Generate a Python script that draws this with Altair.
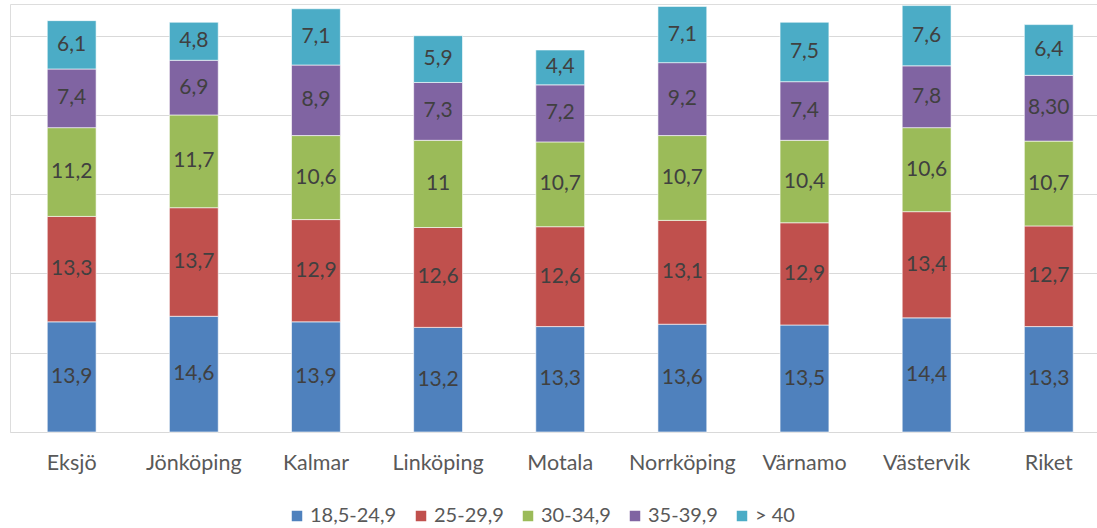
import altair as alt
import pandas as pd

# BMI classes per municipality (percent of population), as printed on the bars
cities = ["Eksjö", "Jönköping", "Kalmar", "Linköping", "Motala",
          "Norrköping", "Värnamo", "Västervik", "Riket"]
classes = ["18,5-24,9", "25-29,9", "30-34,9", "35-39,9", "> 40"]
colors = ["#4f81bd", "#c0504d", "#9bbb59", "#8064a2", "#4bacc6"]

bmi_18_24 = ["13,9", "14,6", "13,9", "13,2", "13,3", "13,6", "13,5", "14,4", "13,3"]
bmi_25_29 = ["13,3", "13,7", "12,9", "12,6", "12,6", "13,1", "12,9", "13,4", "12,7"]
bmi_30_34 = ["11,2", "11,7", "10,6", "11", "10,7", "10,7", "10,4", "10,6", "10,7"]
bmi_35_39 = ["7,4", "6,9", "8,9", "7,3", "7,2", "9,2", "7,4", "7,8", "8,30"]
bmi_40 = ["6,1", "4,8", "7,1", "5,9", "4,4", "7,1", "7,5", "7,6", "6,4"]

series = [bmi_18_24, bmi_25_29, bmi_30_34, bmi_35_39, bmi_40]

rows = []
for k, (cls, vals) in enumerate(zip(classes, series)):
    for city, txt in zip(cities, vals):
        rows.append({"city": city, "klass": cls, "order": k,
                     "value": float(txt.replace(",", ".")), "label": txt})
df = pd.DataFrame(rows)

FONT = "Lato"

x_enc = alt.X("city:N", sort=cities, title=None,
              scale=alt.Scale(paddingInner=0.6, paddingOuter=0.25, align=0.61, round=False),
              axis=alt.Axis(labelAngle=0, ticks=False, domain=False, labelFontSize=21.5,
                            labelColor="#595959", labelFont=FONT, labelPadding=20))

y_scale = alt.Scale(domain=[0, 54], nice=False)

bars = alt.Chart(df).mark_bar(stroke="white", strokeWidth=0.6).encode(
    x=x_enc,
    y=alt.Y("value:Q", stack="zero", scale=y_scale, title=None,
            axis=alt.Axis(labels=False, ticks=False, domain=False, values=[0, 10, 20, 30, 40, 50],
                          grid=True, gridColor="#d9d9d9", gridWidth=1.2)),
    color=alt.Color("klass:N", sort=classes,
                    scale=alt.Scale(domain=classes, range=colors),
                    legend=alt.Legend(title=None, orient="none", direction="horizontal",
                                      legendX=277, legendY=502, symbolType="square",
                                      symbolSize=110, symbolStrokeWidth=0, labelFontSize=20,
                                      labelColor="#595959", labelFont=FONT, columnPadding=14,
                                      labelOffset=3)),
    order=alt.Order("order:Q", sort="ascending"),
)

labels = alt.Chart(df).transform_stack(
    stack="value", groupby=["city"], sort=[alt.SortField("order", order="ascending")],
    as_=["y0", "y1"]
).transform_calculate(
    mid="(datum.y0 + datum.y1) / 2"
).mark_text(font=FONT, fontSize=21, color="#404040", baseline="middle").encode(
    x=alt.X("city:N", sort=cities),
    y=alt.Y("mid:Q", scale=y_scale),
    text="label:N",
)

chart = alt.layer(bars, labels).properties(
    width=1087, height=428,
    autosize=alt.AutoSizeParams(type="none"),
    padding={"left": 10, "top": 4, "right": 0, "bottom": 96},
).configure_view(stroke=None).configure(background="white")

chart.save("out.html", embed_options={"renderer": "svg", "actions": False})
